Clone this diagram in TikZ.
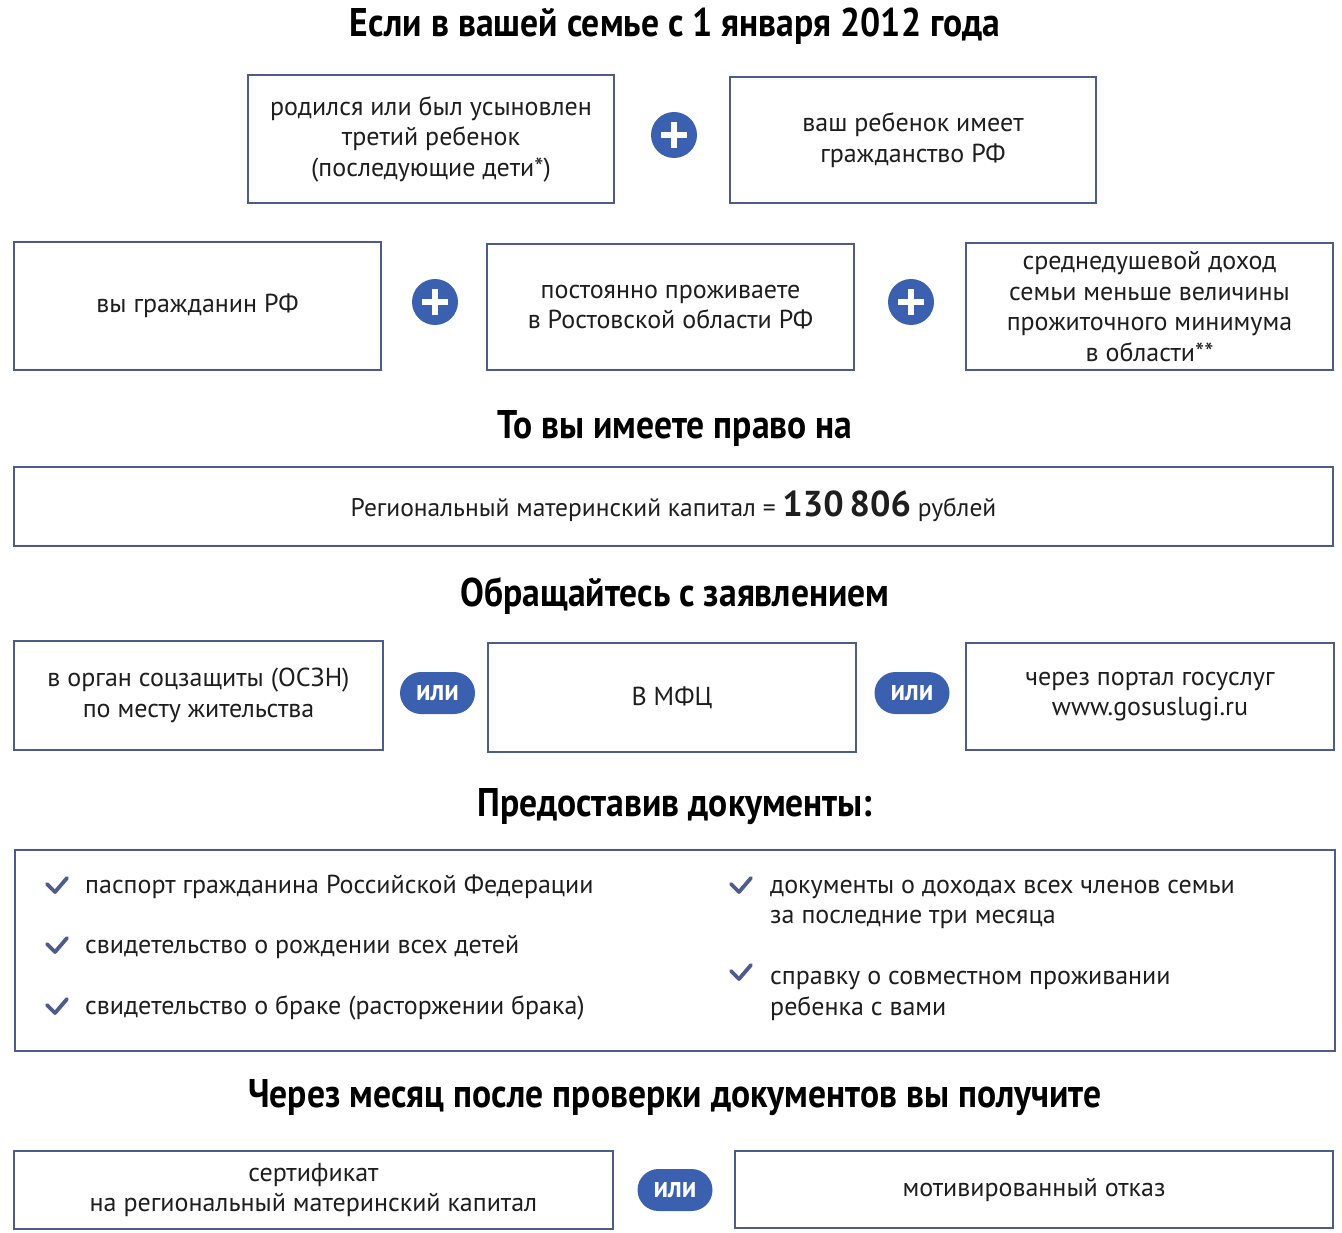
\documentclass[tikz,border=0pt]{standalone}
\usepackage{fontspec}
\setmainfont{PT Sans}
\newfontfamily\headfont[FakeStretch=0.89]{PT Sans}
\definecolor{frame}{RGB}{78,92,140}
\definecolor{accent}{RGB}{60,96,176}
\definecolor{textc}{RGB}{30,30,30}
\begin{document}
\begin{tikzpicture}[x=1pt,y=-1pt,
  box/.style={draw=frame, line width=2.4pt, fill=white, align=center, inner sep=0pt,
    font=\fontsize{26}{30.5}\selectfont, text=textc},
  title/.style={font=\headfont\bfseries\fontsize{40}{42}\selectfont, text=black, inner sep=0pt},
  plus/.style={circle, fill=accent, minimum size=46pt, inner sep=0pt},
  plusbar/.style={white, line width=6pt},
  pill/.style={fill=accent, rounded corners=21pt, minimum width=75pt, minimum height=42pt,
    inner sep=0pt, text=white, font=\headfont\bfseries\fontsize{30}{30}\selectfont},
  item/.style={anchor=west, align=left, inner sep=0pt, text=textc, font=\fontsize{26}{30.5}\selectfont},
  check/.style={draw=frame, line width=3.8pt, line cap=round, line join=round}]
\useasboundingbox[fill=white] (0,0) rectangle (1342,1233);

% Title 1
\node[title] (t1) at (675,26) {Если в вашей семье с 1 января 2012 года};

% Row 1
\node[box, minimum width=366pt, minimum height=128pt] (a) at (431,139)
  {родился или был усыновлен\\третий ребенок\\(последующие дети*)};
\node[plus] (p1) at (674,135) {};
\draw[plusbar] ([xshift=-13pt]p1.center) -- ([xshift=13pt]p1.center);
\draw[plusbar] ([yshift=-13pt]p1.center) -- ([yshift=13pt]p1.center);
\node[box, minimum width=366pt, minimum height=126pt] (b) at (913,140)
  {ваш ребенок имеет\\гражданство РФ};

% Row 2
\node[box, minimum width=367pt, minimum height=128pt] (c) at (197.5,306)
  {вы гражданин РФ};
\node[plus] (p2) at (435,302) {};
\draw[plusbar] ([xshift=-13pt]p2.center) -- ([xshift=13pt]p2.center);
\draw[plusbar] ([yshift=-13pt]p2.center) -- ([yshift=13pt]p2.center);
\node[box, minimum width=367pt, minimum height=126pt] (d) at (670.5,307)
  {постоянно проживаете\\в Ростовской области РФ};
\node[plus] (p3) at (911,302) {};
\draw[plusbar] ([xshift=-13pt]p3.center) -- ([xshift=13pt]p3.center);
\draw[plusbar] ([yshift=-13pt]p3.center) -- ([yshift=13pt]p3.center);
\node[box, minimum width=367pt, minimum height=127pt] (e) at (1149.5,306.5)
  {среднедушевой доход\\семьи меньше величины\\прожиточного минимума\\в области**};

% Title 2
\node[title] (t2) at (675,428) {То вы имеете право на};

\node[box, minimum width=1319pt, minimum height=79pt] (f) at (673.5,506.5)
  {{\fontsize{25.5}{30}\selectfont Региональный материнский капитал = {\bfseries\fontsize{36}{36}\selectfont 130\,806} рублей}};

% Title 3
\node[title] (t3) at (675,596) {Обращайтесь с заявлением};

\node[box, minimum width=369pt, minimum height=109pt] (g) at (198.5,695.5)
  {в орган соцзащиты (ОСЗН)\\по месту жительства};
\node[pill] (o1) at (437.5,693) {или};
\node[box, minimum width=368pt, minimum height=109pt] (h) at (672,697.5)
  {В МФЦ};
\node[pill] (o2) at (912,693) {или};
\node[box, minimum width=368pt, minimum height=107pt] (i) at (1150,696.5)
  {через портал госуслуг\\www.gosuslugi.ru};

% Title 4
\node[title] (t4) at (675,807) {Предоставив документы:};

\node[box, minimum width=1320pt, minimum height=201pt] (j) at (675,950.5) {};
\draw[check] (47,884) -- (55,892) -- (67,878);
\node[item] (j1) at (85,887) {паспорт гражданина Российской Федерации};
\draw[check] (47,944) -- (55,952) -- (67,938);
\node[item] (j2) at (85,947) {свидетельство о рождении всех детей};
\draw[check] (47,1005) -- (55,1013) -- (67,999);
\node[item] (j3) at (85,1008) {свидетельство о браке (расторжении брака)};
\draw[check] (731,884) -- (739,892) -- (751,878);
\node[item] (j4) at (770,904.5) {документы о доходах всех членов семьи\\за последние три месяца};
\draw[check] (731,971) -- (739,979) -- (751,965);
\node[item] (j5) at (770,996) {справку о совместном проживании\\ребенка с вами};

% Title 5
\node[title] (t5) at (675,1098) {Через месяц после проверки документов вы получите};

\node[box, minimum width=599pt, minimum height=78pt] (k) at (313.5,1190)
  {сертификат\\на региональный материнский капитал};
\node[pill] (o3) at (675,1190) {или};
\node[box, minimum width=598pt, minimum height=77pt] (l) at (1034,1189.5)
  {мотивированный отказ};
\end{tikzpicture}
\end{document}
